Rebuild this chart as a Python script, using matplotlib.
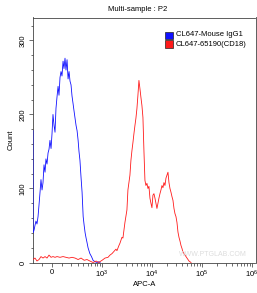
import numpy as np
import matplotlib
matplotlib.use("Agg")
import matplotlib.pyplot as plt
from matplotlib.ticker import FixedLocator, MultipleLocator

plt.rcParams['font.family'] = ['Liberation Sans', 'DejaVu Sans']
plt.rcParams['mathtext.fontset'] = 'custom'
plt.rcParams['mathtext.rm'] = 'Liberation Sans'
plt.rcParams['mathtext.it'] = 'Liberation Sans'

title = "Multi-sample : P2"
xlabel = "APC-A"
ylabel = "Count"
series_names = ["CL647-Mouse IgG1", "CL647-65190(CD18)"]
series_colors = ["#1010ff", "#ff1a1a"]

# Isotype control (blue)
blue_x = [-200, -199, -186, -175, -163, -151, -139, -128, -117, -107, -96, -86, -76, -66, -57, -47,
          -37, -28, -19, -9, 0, 9, 19, 28, 37, 47, 57, 66, 76, 86, 96, 107, 117, 128, 139, 151,
          163, 175, 187, 200, 213, 227, 241, 256, 272, 288, 305, 320, 337, 357, 377, 399, 420,
          441, 463, 485, 510, 558, 604, 652, 718, 789, 850, 910]
blue_y = [178, 40, 44, 50, 56, 52, 62, 78, 95, 112, 98, 108, 132, 122, 140, 133, 148, 153, 165,
          154, 174, 200, 185, 176, 208, 224, 238, 226, 250, 258, 252, 272, 262, 276, 260, 274,
          248, 258, 245, 240, 225, 215, 205, 195, 185, 178, 165, 150, 138, 115, 95, 62, 50, 40,
          33, 27, 20, 12, 8, 3, 1, 0, 1, 0]

# CD18 antibody (red)
red_x = [-200, -175, -151, -128, -107, -86, -66, -47, -28, -9, 9, 28, 47, 76, 107, 139, 175, 213,
         256, 305, 357, 420, 485, 558, 652, 755, 850, 1000, 1148, 1318, 1445, 1585, 1738, 1905,
         1995, 2188, 2291, 2512, 2630, 2884, 3162, 3311, 3631, 3802, 3981, 4169, 4365, 4571,
         4786, 5012, 5248, 5495, 5754, 6026, 6310, 6607, 6918, 7244, 7586, 7943, 8318, 8710,
         9120, 9550, 10000, 10471, 10965, 11482, 12023, 12589, 13183, 13804, 14454, 15136,
         15849, 16596, 17378, 18197, 19055, 19953, 20893, 21878, 22909, 23988, 25119, 26303,
         27542, 28840, 30200, 31623, 33113, 34674, 36308, 38019, 39811, 41687, 45709, 50119,
         54954, 60256]
red_y = [4, 6, 2, 4, 8, 6, 8, 6, 10, 7, 8, 7, 8, 7, 8, 7, 6, 7, 6, 4, 6, 3, 4, 2, 0, 2, 0,
         3, 6, 7, 10, 12, 15, 18, 16, 23, 26, 34, 33, 54, 71, 98, 118, 138, 151, 162, 174, 185,
         195, 208, 226, 246, 235, 223, 212, 196, 151, 111, 104, 107, 100, 103, 87, 80, 74, 91,
         93, 87, 80, 73, 80, 87, 93, 98, 104, 101, 108, 104, 114, 118, 122, 108, 100, 95, 89,
         84, 73, 66, 62, 54, 41, 34, 29, 23, 19, 14, 10, 6, 2, 0]

x_major = [0, 1e3, 1e4, 1e5, 1e6]
x_major_labels = ["0", "$10^3$", "$10^4$", "$10^5$", "$10^6$"]
y_major = [0, 100, 200, 300]

C = 202.0
LN10 = np.log(10.0)


def fwd(v):
    return np.arcsinh(np.asarray(v, dtype=float) / C) / LN10


def inv(u):
    return C * np.sinh(np.asarray(u, dtype=float) * LN10)


fig = plt.figure(figsize=(2.57, 2.93), dpi=100)
ax = fig.add_axes([33 / 257, (293 - 262.5) / 293, (255.5 - 33) / 257, (262.5 - 17.5) / 293])
ax.set_xscale('function', functions=(fwd, inv))

ax.plot(blue_x, blue_y, color=series_colors[0], lw=0.6, zorder=3)
ax.plot(red_x, red_y, color=series_colors[1], lw=0.6, zorder=3)

ax.set_xlim(-200, 1.17e6)
ax.set_ylim(0, 331)

ax.xaxis.set_major_locator(FixedLocator(x_major))
ax.set_xticklabels(x_major_labels)
minor = [-100] + [m * 100 for m in range(1, 10)]
for d in [1e3, 1e4, 1e5]:
    minor += [m * d for m in range(2, 10)]
ax.xaxis.set_minor_locator(FixedLocator(minor))

ax.yaxis.set_major_locator(FixedLocator(y_major))
ax.yaxis.set_minor_locator(MultipleLocator(20))
for lab in ax.get_yticklabels():
    lab.set_rotation(90)
    lab.set_va('center')

ax.tick_params(axis='both', which='major', length=3, width=0.5, labelsize=5.5, pad=1.5, color='#333333')
ax.tick_params(axis='both', which='minor', length=1.8, width=0.5, color='#333333')
for s in ax.spines.values():
    s.set_linewidth(0.6)
    s.set_color('#444444')

ax.set_xlabel(xlabel, fontsize=5.5, labelpad=1)
ax.set_ylabel(ylabel, fontsize=5.5, labelpad=4)
fig.text(138 / 257, 1 - 9.5 / 293, title, ha='center', va='center', fontsize=5.5)

# legend
for i, (name, col) in enumerate(zip(series_names, series_colors)):
    yy = 35 + i * 9
    ax.add_patch(plt.Rectangle((165 / 257, 1 - (yy + 3.5) / 293), 8 / 257, 7 / 293,
                               transform=fig.transFigure, facecolor=col, edgecolor='#222222',
                               lw=0.5, clip_on=False))
    fig.text(176 / 257, 1 - yy / 293, name, ha='left', va='center', fontsize=5.5)

ax.text(0.96, 0.02, "WWW.PTGLAB.COM", transform=ax.transAxes, ha='right', va='bottom',
        fontsize=5, color='#dddddd')

fig.savefig("out.png", dpi=100)
